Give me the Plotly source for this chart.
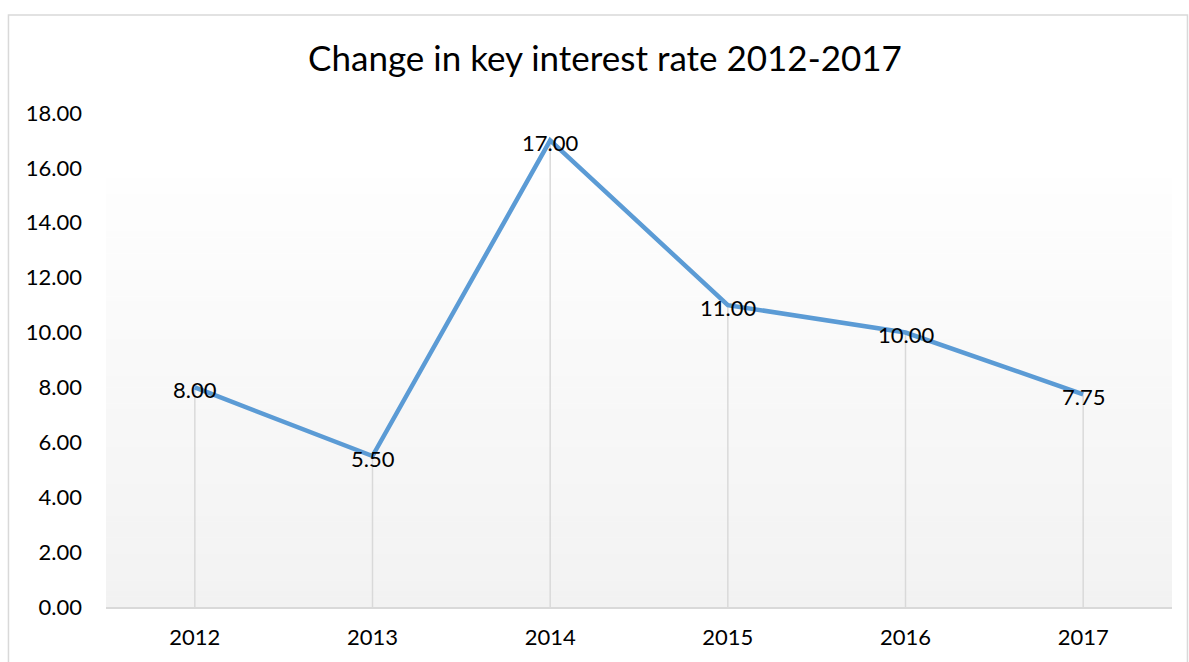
import plotly.graph_objects as go

# Key interest rate by year
years = ["2012", "2013", "2014", "2015", "2016", "2017"]
rates = [8.00, 5.50, 17.00, 11.00, 10.00, 7.75]
y_ticks = [0, 2, 4, 6, 8, 10, 12, 14, 16, 18]

FONT = "Lato, Carlito, Calibri, sans-serif"
LINE_BLUE = "#5b9bd5"
SOFT_GRAY = "#d9d9d9"

fig = go.Figure()

# Drop lines from each point down to the category axis
drop_x, drop_y = [], []
for yr, v in zip(years, rates):
    drop_x += [yr, yr, None]
    drop_y += [0, v, None]
fig.add_trace(go.Scatter(
    x=drop_x, y=drop_y, mode="lines",
    line=dict(color=SOFT_GRAY, width=1.5),
    hoverinfo="skip", showlegend=False,
))

# Rate line
fig.add_trace(go.Scatter(
    x=years, y=rates, mode="lines",
    line=dict(color=LINE_BLUE, width=4.5),
    showlegend=False,
))

# Value labels centred on each point (category axis positions are indices)
for idx, v in enumerate(rates):
    fig.add_annotation(
        x=idx, y=v, xref="x", yref="y",
        text=f"{v:.2f}", showarrow=False,
        xanchor="center", yanchor="middle", yshift=-2,
        font=dict(family=FONT, size=22, color="#000000"),
    )

# Plot-area fill: vertical gradient from white to light gray
shapes = []
n_steps = 80
g_top, g_bottom = 0.868, 0.0
for i in range(n_steps):
    t = (i + 0.5) / n_steps
    c = round(254 - (254 - 242) * t)
    y1 = g_top - (g_top - g_bottom) * i / n_steps
    y0 = g_top - (g_top - g_bottom) * (i + 1) / n_steps
    shapes.append(dict(
        type="rect", xref="paper", yref="paper",
        x0=0, x1=1, y0=y0 - 0.001, y1=y1,
        fillcolor=f"rgb({c},{c},{c})", line=dict(width=0), layer="below",
    ))

# Chart frame
shapes.append(dict(
    type="rect", xref="paper", yref="paper",
    x0=-0.0915, x1=1.0145, y0=-0.2, y1=1.1985,
    line=dict(color=SOFT_GRAY, width=1.5), fillcolor="rgba(0,0,0,0)",
    layer="below",
))

fig.update_layout(
    width=1189, height=662,
    margin=dict(l=106, r=17, t=113, b=55),
    paper_bgcolor="#ffffff",
    plot_bgcolor="rgba(0,0,0,0)",
    shapes=shapes,
    title=dict(
        text="Change in key interest rate 2012-2017",
        font=dict(family=FONT, size=35, color="#000000"),
        x=605 / 1189, xanchor="center", xref="container",
        y=1 - 59 / 662, yanchor="middle", yref="container",
    ),
    xaxis=dict(
        type="category", range=[-0.5, 5.5],
        showgrid=False, zeroline=False,
        showline=True, linecolor=SOFT_GRAY, linewidth=2,
        ticks="", tickfont=dict(family=FONT, size=22, color="#000000"),
        ticklabelstandoff=10,
    ),
    yaxis=dict(
        range=[0, 18], tickvals=y_ticks,
        ticktext=[f"{v:.2f}" for v in y_ticks],
        showgrid=False, zeroline=False, showline=False,
        ticks="", tickfont=dict(family=FONT, size=22, color="#000000"),
        ticklabelstandoff=23,
    ),
)

fig.write_html("out.html")
